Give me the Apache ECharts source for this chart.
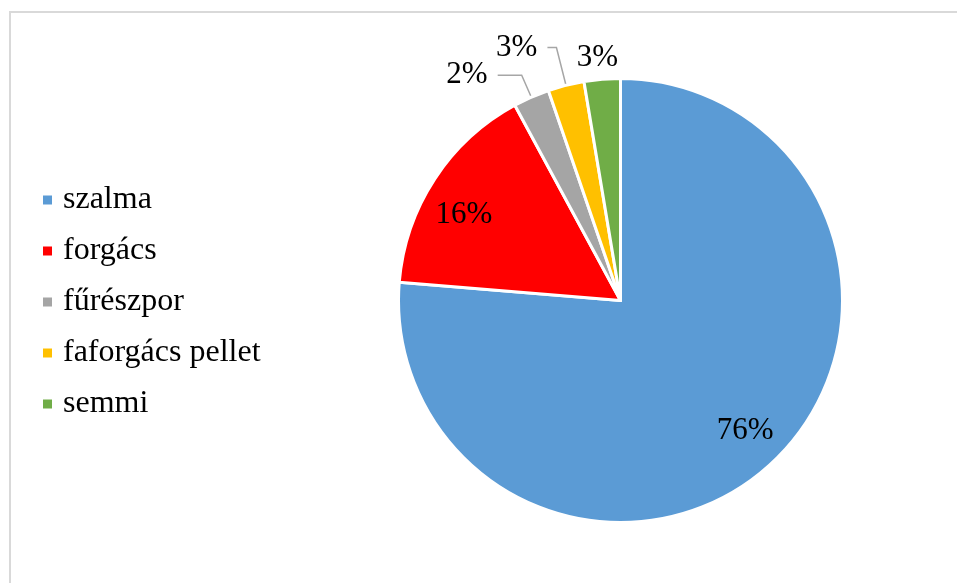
<!DOCTYPE html>
<html>
<head>
<meta charset="utf-8">
<script src="https://cdn.jsdelivr.net/npm/echarts@6/dist/echarts.min.js"></script>
<style>
html,body{margin:0;padding:0;background:#fff;}
#chart{width:957px;height:583px;}
</style>
</head>
<body>
<div id="chart"></div>
<script>
const categories = ['szalma', 'forgács', 'fűrészpor', 'faforgács pellet', 'semmi'];
const counts = [29, 6, 1, 1, 1];
const pctLabels = ['76%', '16%', '2%', '3%', '3%'];
const colors = ['#5B9BD5', '#FF0000', '#A5A5A5', '#FFC000', '#70AD47'];

const FONT = "'Liberation Serif', 'Times New Roman', serif";

// per-item outside label settings (only small slices get outside labels)
const outsideCfg = {
  2: { labelLine: { show: true, length: 24, length2: 24 }, dist: 10 },
  3: { labelLine: { show: true, length: 39, length2: 9 }, dist: 10 },
  4: { labelLine: { show: false, length: 26, length2: 0 }, dist: 5 }
};

const mainData = categories.map((name, i) => {
  const item = { name: name, value: counts[i], itemStyle: { color: colors[i] } };
  if (outsideCfg[i]) {
    item.label = { show: true, distanceToLabelLine: outsideCfg[i].dist };
    item.labelLine = outsideCfg[i].labelLine;
  } else {
    item.label = { show: false };
    item.labelLine = { show: false };
  }
  return item;
});

const innerData = categories.map((name, i) => ({
  name: name,
  value: counts[i],
  itemStyle: { color: 'rgba(0,0,0,0)', borderWidth: 0 },
  label: { show: i < 2 }
}));

const chart = echarts.init(document.getElementById('chart'), null, { renderer: 'canvas' });
chart.setOption({
  backgroundColor: '#ffffff',
  animation: false,
  graphic: [{
    type: 'rect',
    shape: { x: 10, y: 12, width: 960, height: 590 },
    style: { fill: 'none', stroke: '#d9d9d9', lineWidth: 2 },
    silent: true,
    z: -10
  }],
  legend: {
    orient: 'vertical',
    left: 36,
    top: 179,
    data: categories,
    icon: 'rect',
    itemWidth: 11,
    itemHeight: 11,
    itemGap: 19,
    selectedMode: false,
    textStyle: {
      fontFamily: FONT,
      fontSize: 32,
      color: '#000',
      lineHeight: 32,
      padding: [0, 0, 0, 5]
    }
  },
  series: [
    {
      type: 'pie',
      center: [620.5, 300.5],
      radius: 222,
      startAngle: 90,
      clockwise: true,
      avoidLabelOverlap: false,
      silent: true,
      itemStyle: { borderColor: '#ffffff', borderWidth: 3 },
      label: {
        position: 'outside',
        fontFamily: FONT,
        fontSize: 31,
        color: '#000',
        formatter: p => pctLabels[p.dataIndex]
      },
      labelLine: {
        lineStyle: { color: '#A6A6A6', width: 1.5 }
      },
      labelLayout: function (params) {
        if (params.dataIndex === 4) return { dx: 23, dy: 5 };
        return {};
      },
      data: mainData
    },
    {
      type: 'pie',
      center: [620.5, 300.5],
      radius: [136, 220],
      startAngle: 90,
      clockwise: true,
      silent: true,
      avoidLabelOverlap: false,
      label: {
        position: 'inside',
        fontFamily: FONT,
        fontSize: 31,
        color: '#000',
        formatter: p => pctLabels[p.dataIndex]
      },
      labelLine: { show: false },
      labelLayout: function (params) {
        if (params.dataIndex === 0) return { dx: 2, dy: -3 };
        if (params.dataIndex === 1) return { dx: -5, dy: 13 };
        return {};
      },
      data: innerData
    }
  ]
});
</script>
</body>
</html>
